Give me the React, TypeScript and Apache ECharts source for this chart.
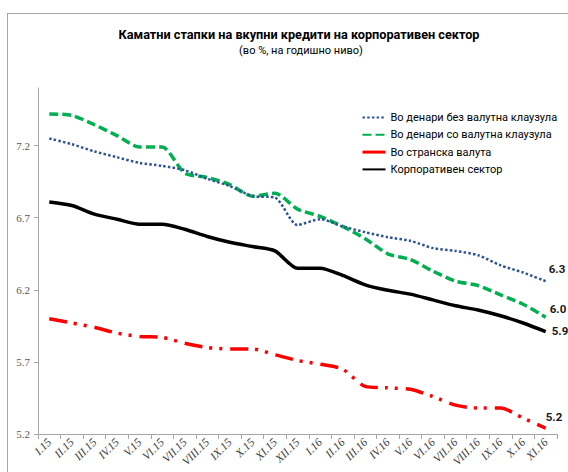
import React, { useEffect, useRef } from "react";
import * as echarts from "echarts";

const categories = [
  "I.15", "II.15", "III.15", "IV.15", "V.15", "VI.15", "VII.15", "VIII.15", "IX.15", "X.15", "XI.15", "XII.15",
  "I.16", "II.16", "III.16", "IV.16", "V.16", "VI.16", "VII.16", "VIII.16", "IX.16", "X.16", "XI.16",
];

const denarNoClause = [7.25, 7.21, 7.16, 7.12, 7.08, 7.06, 7.03, 6.97, 6.92, 6.85, 6.84, 6.65, 6.69, 6.64, 6.6, 6.565, 6.54, 6.49, 6.47, 6.44, 6.37, 6.32, 6.26];
const denarWithClause = [7.42, 7.41, 7.345, 7.27, 7.19, 7.19, 7.01, 6.98, 6.93, 6.85, 6.87, 6.76, 6.71, 6.64, 6.555, 6.45, 6.41, 6.33, 6.26, 6.23, 6.165, 6.1, 6.01];
const foreignCurrency = [6.0, 5.97, 5.94, 5.9, 5.876, 5.87, 5.83, 5.8, 5.79, 5.79, 5.75, 5.71, 5.684, 5.65, 5.53, 5.52, 5.51, 5.46, 5.4, 5.38, 5.38, 5.31, 5.24];
const corporate = [6.81, 6.785, 6.725, 6.69, 6.655, 6.655, 6.62, 6.57, 6.53, 6.5, 6.47, 6.35, 6.35, 6.3, 6.235, 6.197, 6.17, 6.13, 6.09, 6.06, 6.02, 5.97, 5.91];

const yTicks = [5.2, 5.7, 6.2, 6.7, 7.2];

const seriesNames = [
  "Во денари без валутна клаузула",
  "Во денари со валутна клаузула",
  "Во странска валута",
  "Корпоративен сектор",
];

export default function App() {
  const ref = useRef<HTMLDivElement>(null);
  useEffect(() => {
    if (!ref.current) return;
    const chart = echarts.init(ref.current, undefined, { renderer: "svg" });
    const endLabel = (offset: number[]) => ({
      show: true,
      formatter: (p: any) => Number(p.value).toFixed(1),
      fontFamily: "Roboto",
      fontWeight: "bold",
      fontSize: 11.5,
      color: "#1a1a1a",
      offset,
    });
    chart.setOption({
      animation: false,
      backgroundColor: "#ffffff",
      grid: { left: 38, right: 11, top: 88, bottom: 38, containLabel: false, outerBoundsMode: "none" },
      graphic: [
        { type: "line", shape: { x1: 7, y1: 13.5, x2: 568, y2: 13.5 }, style: { stroke: "#a6a6a6", lineWidth: 1 } },
        { type: "line", shape: { x1: 7.5, y1: 13, x2: 7.5, y2: 472 }, style: { stroke: "#a6a6a6", lineWidth: 1 } },
        {
          type: "text",
          x: 299,
          y: 34,
          style: {
            text: "Каматни стапки на вкупни кредити на корпоративен сектор",
            textAlign: "center",
            textVerticalAlign: "middle",
            fontFamily: "Roboto",
            fontWeight: "bold",
            fontSize: 12.7,
            fill: "#000",
          },
        },
        {
          type: "text",
          x: 301,
          y: 50,
          style: {
            text: "(во %, на годишно ниво)",
            textAlign: "center",
            textVerticalAlign: "middle",
            fontFamily: "Roboto",
            fontSize: 11,
            fill: "#000",
          },
        },
      ],
      legend: {
        orient: "vertical",
        left: 356,
        top: 107,
        itemWidth: 23,
        itemHeight: 12,
        itemGap: 6.3,
        itemTextGap: 6,
        itemStyle: { opacity: 0 },
        textStyle: { fontFamily: "Roboto", fontSize: 11, color: "#000" },
        data: [
          { name: seriesNames[0] },
          { name: seriesNames[1] },
          { name: seriesNames[2], lineStyle: { type: "solid", width: 3 } },
          { name: seriesNames[3] },
        ],
      },
      xAxis: {
        type: "category",
        data: categories,
        boundaryGap: true,
        axisLine: { lineStyle: { color: "#a6a6a6", width: 1 } },
        axisTick: { show: true, inside: false, length: 5, lineStyle: { color: "#a6a6a6" } },
        axisLabel: {
          interval: 0,
          rotate: 45,
          fontFamily: "Liberation Serif",
          fontStyle: "italic",
          fontSize: 11.5,
          color: "#404040",
          margin: 6,
        },
        splitLine: { show: false },
      },
      yAxis: {
        type: "value",
        min: 5.2,
        max: 7.6,
        axisLine: { show: true, lineStyle: { color: "#a6a6a6", width: 1 } },
        axisTick: { show: true, length: 4, lineStyle: { color: "#a6a6a6" }, customValues: yTicks },
        axisLabel: {
          customValues: yTicks,
          formatter: (v: number) => v.toFixed(1),
          fontFamily: "Liberation Serif",
          fontSize: 11,
          color: "#595959",
          margin: 8,
        },
        splitLine: { show: false },
      },
      series: [
        {
          name: seriesNames[0],
          type: "line",
          data: denarNoClause,
          symbol: "none",
          smooth: 0.25,
          lineStyle: { color: "#2E5597", width: 2.5, type: [2.5, 2.2], cap: "butt" },
          itemStyle: { color: "#2E5597" },
          endLabel: endLabel([-5, -12]),
          z: 3,
        },
        {
          name: seriesNames[1],
          type: "line",
          data: denarWithClause,
          symbol: "none",
          smooth: 0.25,
          lineStyle: { color: "#00B050", width: 3.5, type: [9, 4], cap: "butt" },
          itemStyle: { color: "#00B050" },
          endLabel: endLabel([-4, -8]),
          z: 2,
        },
        {
          name: seriesNames[2],
          type: "line",
          data: foreignCurrency,
          symbol: "none",
          smooth: 0.25,
          lineStyle: { color: "#FF0000", width: 3.5, type: [18, 7, 3, 7, 3, 8], cap: "butt" },
          itemStyle: { color: "#FF0000" },
          endLabel: endLabel([-8, -11]),
          z: 2,
        },
        {
          name: seriesNames[3],
          type: "line",
          data: corporate,
          symbol: "none",
          smooth: 0.25,
          lineStyle: { color: "#000000", width: 3.5, type: "solid" },
          itemStyle: { color: "#000000" },
          endLabel: endLabel([-2, -1]),
          z: 4,
        },
      ],
    });
    return () => chart.dispose();
  }, []);
  return (
    <div
      ref={ref}
      style={{ position: "fixed", left: 0, top: 0, width: 568, height: 472, background: "#fff" }}
    />
  );
}
